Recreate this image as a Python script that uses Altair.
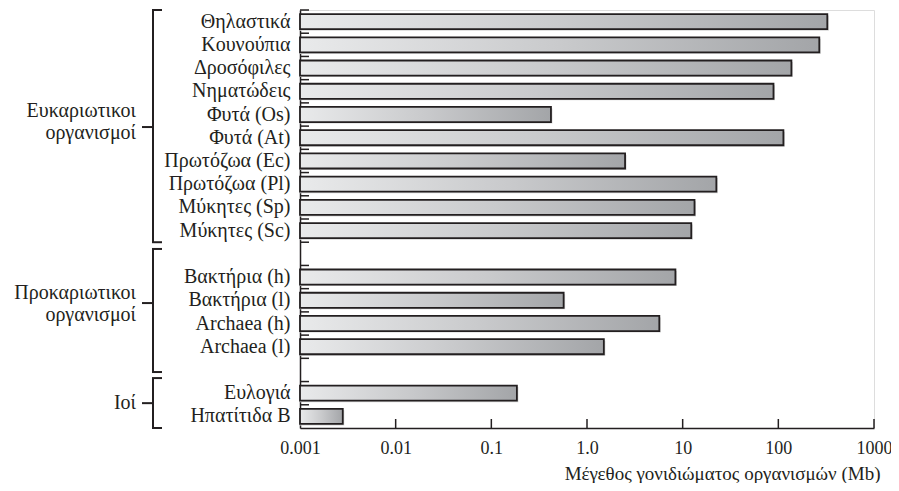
import altair as alt
import pandas as pd

# ---- data ----
categories = ["Θηλαστικά", "Κουνούπια", "Δροσόφιλες", "Νηματώδεις", "Φυτά (Os)",
              "Φυτά (At)", "Πρωτόζωα (Ec)", "Πρωτόζωα (Pl)", "Μύκητες (Sp)", "Μύκητες (Sc)",
              "Βακτήρια (h)", "Βακτήρια (l)", "Archaea (h)", "Archaea (l)",
              "Ευλογιά", "Ηπατίτιδα B"]
genome_mb = [325, 268, 137, 89, 0.42,
             113, 2.5, 22.5, 13.3, 12.3,
             8.4, 0.57, 5.7, 1.5,
             0.185, 0.0028]
group_sizes = [10, 4, 2]
group_labels = ["Ευκαριωτικοι\nοργανισμοί", "Προκαριωτικοι\nοργανισμοί", "Ιοί"]
group_top = [0, 10.29, 15.85]      # bracket extent in row units
group_bottom = [10, 15.59, 18]
group_mid = [5.04, 12.62, 16.93]
group_text_y = [4.35, 12.19, 16.92]
tick_values = [0.001, 0.01, 0.1, 1, 10, 100, 1000]
tick_labels = ["0.001", "0.01", "0.1", "1.0", "10", "100", "1000"]
x_title = "Μέγεθος γονιδιώματος οργανισμών (Mb)"

# ---- slots: categories with a blank row between groups ----
slots = []
i = 0
for g, n in enumerate(group_sizes):
    slots += categories[i:i + n]
    i += n
    if g < len(group_sizes) - 1:
        slots.append(" " * (g + 1))
n_slots = len(slots)

bars_df = pd.DataFrame({"slot": categories, "value": genome_mb, "base": [0.001] * len(categories)})
rows_df = pd.DataFrame({"k": list(range(n_slots))})
groups_df = pd.DataFrame({"label": group_labels, "top": group_top, "bottom": group_bottom,
                          "mid": group_mid, "ty": group_text_y})
xt_df = pd.DataFrame({"v": tick_values[1:]})

INK = "#231f20"
FONT = "Liberation Serif"
W, H = 574, 418

label_expr = "[" + ",".join("'%s'" % t for t in tick_labels) + "][round(log(datum.value)/LN10)+3]"

xscale = alt.Scale(type="log", domain=[0.001, 1000], nice=False)
xenc = alt.X("value:Q", scale=xscale,
             axis=alt.Axis(values=tick_values, labelExpr=label_expr, ticks=False, grid=False,
                           labelFlush=False, labelOverlap=False,
                           domainColor=INK, domainWidth=1.5, labelPadding=11,
                           title=x_title, titleX=W + 6, titleY=51, titleAlign="right",
                           titleBaseline="alphabetic",
                           labelFontSize=18, titleFontSize=19, titleFontWeight="normal",
                           labelColor=INK, titleColor=INK, labelFont=FONT, titleFont=FONT))
yband = alt.Y("slot:N", sort=slots,
              scale=alt.Scale(domain=slots, paddingInner=0.35, paddingOuter=0.175),
              axis=alt.Axis(title=None, ticks=False, domainColor=INK, domainWidth=1.5,
                            labelPadding=10, labelFontSize=20, labelColor=INK, labelFont=FONT,
                            labelLimit=300))

grad = alt.Gradient(gradient="linear", x1=0, x2=1, y1=0, y2=0,
                    stops=[alt.GradientStop(offset=0, color="#e9eaeb"),
                           alt.GradientStop(offset=0.5, color="#c9cacc"),
                           alt.GradientStop(offset=1, color="#a3a5a8")])

shadow = alt.Chart(bars_df).mark_bar(color="#d6d6d6", xOffset=1.5, yOffset=1.5).encode(
    x=xenc, x2="base:Q", y=yband)
bars = alt.Chart(bars_df).mark_bar(fill=grad, stroke=INK, strokeWidth=1.8).encode(
    x=xenc, x2="base:Q", y=yband)
layer_a = alt.layer(shadow, bars)

yq = lambda f: alt.Y(f, scale=alt.Scale(domain=[0, n_slots], reverse=True, nice=False, zero=False), axis=None)

yticks = alt.Chart(rows_df).mark_rule(color=INK, strokeWidth=1.5).encode(
    y=yq("k:Q"), x=alt.value(0), x2=alt.value(9))
xticks = alt.Chart(xt_df).mark_rule(color=INK, strokeWidth=1.5).encode(
    x=alt.X("v:Q", scale=xscale), y=alt.value(H), y2=alt.value(H - 9))
br_v = alt.Chart(groups_df).mark_rule(color=INK, strokeWidth=2).encode(
    y=yq("top:Q"), y2="bottom:Q", x=alt.value(-147))
br_t = alt.Chart(groups_df).mark_rule(color=INK, strokeWidth=2).encode(
    y=yq("top:Q"), x=alt.value(-148), x2=alt.value(-138))
br_b = alt.Chart(groups_df).mark_rule(color=INK, strokeWidth=2).encode(
    y=yq("bottom:Q"), x=alt.value(-148), x2=alt.value(-138))
br_m = alt.Chart(groups_df).mark_rule(color=INK, strokeWidth=2).encode(
    y=yq("mid:Q"), x=alt.value(-158), x2=alt.value(-147))
gtext = alt.Chart(groups_df).mark_text(align="right", baseline="middle", font=FONT, fontSize=20,
                                       color=INK, lineBreak="\n", lineHeight=22).encode(
    y=yq("ty:Q"), x=alt.value(-164), text="label:N")
layer_b = alt.layer(yticks, xticks, br_v, br_t, br_b, br_m, gtext)

chart = alt.layer(layer_a, layer_b).resolve_scale(y="independent").properties(
    width=W, height=H,
    autosize=alt.AutoSizeParams(type="none"),
    padding={"left": 292, "top": 2, "right": 17, "bottom": 55},
).configure_view(stroke=None).configure(background="white")

chart.save("out.html", embed_options={"renderer": "svg", "actions": False})
